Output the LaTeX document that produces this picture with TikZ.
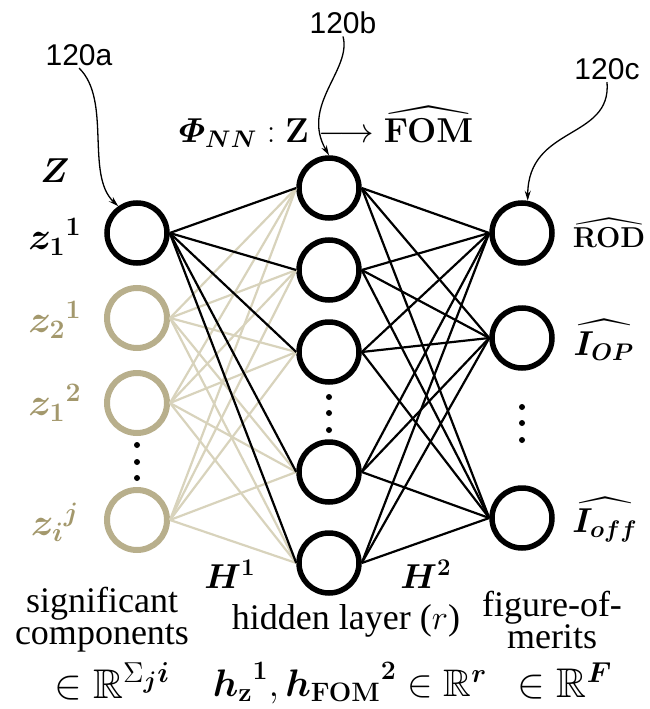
\documentclass[tikz,border=0pt]{standalone}
\usepackage{amsmath,amssymb,bm}
\usepackage[no-math]{fontspec}
\setmainfont{Liberation Serif}
\newfontfamily\calloutfont{Liberation Sans}
\usetikzlibrary{arrows.meta}
\definecolor{inputcol}{RGB}{184,175,140}
\definecolor{inputline}{RGB}{216,211,188}
\definecolor{inputtext}{RGB}{163,152,108}

\begin{document}
\begin{tikzpicture}[
        x=1pt, y=-1pt,
        neuron/.style={circle, draw, line width=5.5pt, minimum size=60pt, inner sep=0pt},
        inneuron/.style={neuron, draw=inputcol, line width=6pt},
        wire/.style={line width=2.2pt},
        inwire/.style={line width=2.2pt, draw=inputline},
        callout/.style={-{Stealth[length=10pt,width=6pt]}, line width=1.3pt},
        ndot/.style={circle, fill, inner sep=0pt, minimum size=6pt},
        txt/.style={font=\fontsize{18}{16}\selectfont, scale=2, inner sep=1pt},
        mathtxt/.style={font=\fontsize{20.74}{20.74}\selectfont, scale=2, inner sep=1pt},
        hiddenmath/.style={font=\fontsize{20.74}{20.74}\selectfont, scale=1.85, inner sep=1pt},
        labelfont/.style={font=\fontsize{18}{18}\selectfont, scale=2, inner sep=1pt},
        inlabel/.style={font=\fontsize{20.74}{20.74}\selectfont, scale=1.85, inner sep=1pt},
        calloutlabel/.style={font=\fontsize{15}{15}\calloutfont, scale=2, inner sep=1pt}
    ]
        \useasboundingbox (0,0) rectangle (649,709);

        % Nodes
        \node[neuron] (in1) at (137,233) {};
        \node[inneuron] (in2) at (137,318) {};
        \node[inneuron] (in3) at (137,403) {};
        \node[inneuron] (in4) at (137,520) {};
        \node[ndot] (indot1) at (137,445) {};
        \node[ndot] (indot2) at (137,462) {};
        \node[ndot] (indot3) at (137,478) {};

        \node[neuron] (h1) at (329,188) {};
        \node[neuron] (h2) at (329,270) {};
        \node[neuron] (h3) at (329,352) {};
        \node[neuron] (h4) at (329,472) {};
        \node[neuron] (h5) at (329,563) {};
        \node[ndot] (hdot1) at (329,397) {};
        \node[ndot] (hdot2) at (329,413) {};
        \node[ndot] (hdot3) at (329,430) {};

        \node[neuron] (o1) at (522,233) {};
        \node[neuron] (o2) at (522,338) {};
        \node[neuron] (o3) at (522,518) {};
        \node[ndot] (odot1) at (522,407) {};
        \node[ndot] (odot2) at (522,423) {};
        \node[ndot] (odot3) at (522,440) {};

        % Labels
        \node[labelfont] (zlabel) at (55,171) {$\bm{Z}$};
        \node[inlabel] (z11) at (55,237) {${\bm{z}_{\mathbf{1}}}^{\mathbf{1}}$};
        \node[inlabel, text=inputtext] (z21) at (55,320) {${\bm{z}_{\mathbf{2}}}^{\mathbf{1}}$};
        \node[inlabel, text=inputtext] (z12) at (55,403) {${\bm{z}_{\mathbf{1}}}^{\mathbf{2}}$};
        \node[inlabel, text=inputtext] (zij) at (55,522) {${\bm{z}_{\bm{i}}}^{\bm{j}}$};
        \node[labelfont, font=\fontsize{14}{14}\selectfont] (rodlabel) at (609,233) {$\widehat{\mathbf{ROD}}$};
        \node[labelfont] (ioplabel) at (604,340) {$\widehat{\bm{I}_{\bm{OP}}}$};
        \node[labelfont] (iofflabel) at (605,520) {$\widehat{\bm{I}_{\bm{off}}}$};
        \node[labelfont, font=\fontsize{17}{17}\selectfont] (title) at (326,127) {$\bm{\varPhi}_{\bm{NN}}:\mathbf{Z}\longrightarrow\widehat{\mathbf{FOM}}$};
        \node[labelfont] (hone) at (230,574) {$\bm{H}^{\mathbf{1}}$};
        \node[labelfont] (htwo) at (426,574) {$\bm{H}^{\mathbf{2}}$};

        \node[txt, align=center] (intext) at (102,620) {significant\\components};
        \node[txt] (hiddentext) at (346,621) {hidden layer ($r$)};
        \node[txt, align=center] (outtext) at (552,620) {figure-of-\\merits};
        \node[mathtxt] (inspace) at (112,681) {$\in\mathbb{R}^{\Sigma_{\bm{j}}\bm{i}}$};
        \node[hiddenmath] (hiddenspace) at (350,683) {${\bm{h}_{\mathbf{z}}}^{\mathbf{1}},{\bm{h}_{\mathbf{FOM}}}^{\mathbf{2}}\in\mathbb{R}^{\bm{r}}$};
        \node[mathtxt] (outspace) at (565,681) {$\in\mathbb{R}^{\bm{F}}$};

        \node[calloutlabel] (calloutA) at (79,55) {120a};
        \node[calloutlabel] (calloutB) at (343,23) {120b};
        \node[calloutlabel] (calloutC) at (607,69) {120c};

        % Connections
        \draw[inwire] (in2.east) edge (h1.west) edge (h2.west) edge (h3.west) edge (h4.west) edge (h5.west);
        \draw[inwire] (in3.east) edge (h1.west) edge (h2.west) edge (h3.west) edge (h4.west) edge (h5.west);
        \draw[inwire] (in4.east) edge (h1.west) edge (h2.west) edge (h3.west) edge (h4.west) edge (h5.west);
        \draw[wire] (in1.east) edge (h1.west) edge (h2.west) edge (h3.west) edge (h4.west) edge (h5.west);
        \draw[wire] (h1.east) edge (o1.west) edge (o2.west) edge (o3.west);
        \draw[wire] (h2.east) edge (o1.west) edge (o2.west) edge (o3.west);
        \draw[wire] (h3.east) edge (o1.west) edge (o2.west) edge (o3.west);
        \draw[wire] (h4.east) edge (o1.west) edge (o2.west) edge (o3.west);
        \draw[wire] (h5.east) edge (o1.west) edge (o2.west) edge (o3.west);

        % Arrows
        \draw[callout] (calloutA.south) .. controls (112,100) and (85,175) .. (in1.125);
        \draw[callout] (calloutB.south) .. controls (352,70) and (300,105) .. (h1.north);
        \draw[callout] (calloutC.south) .. controls (612,140) and (528,125) .. (o1.80);
    \end{tikzpicture}
\end{document}
